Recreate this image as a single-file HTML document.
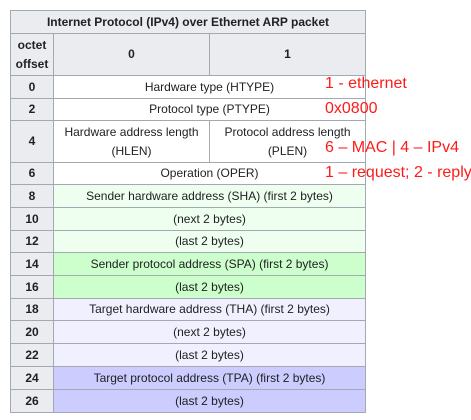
<!DOCTYPE html>
<html><head><style>
body{margin:0;background:#fff;width:471px;height:420px;position:relative;overflow:hidden;font-family:"Liberation Sans",Arial,sans-serif;}
.c{position:absolute;box-sizing:border-box;border:1px solid #a2a9b1;display:flex;align-items:center;justify-content:center;text-align:center;font-size:12px;color:#202122;line-height:19px;}
.h{background:#eaecf0;font-weight:bold;}
.r{position:absolute;color:#ff1a1a;font-size:16px;white-space:nowrap;line-height:18px;}
</style></head><body>
<div class="c h" style="left:10px;top:10px;width:356px;height:24px;">Internet Protocol (IPv4) over Ethernet ARP packet</div>
<div class="c h" style="left:10px;top:33px;width:44px;height:43px;">octet<br>offset</div>
<div class="c h" style="left:53px;top:33px;width:157px;height:43px;">0</div>
<div class="c h" style="left:209px;top:33px;width:157px;height:43px;">1</div>

<div class="c h" style="left:10px;top:75px;width:44px;height:24px;">0</div>
<div class="c" style="left:53px;top:75px;width:313px;height:24px;">Hardware type (HTYPE)</div>
<div class="c h" style="left:10px;top:98px;width:44px;height:23px;">2</div>
<div class="c" style="left:53px;top:98px;width:313px;height:23px;">Protocol type (PTYPE)</div>
<div class="c h" style="left:10px;top:120px;width:44px;height:43px;">4</div>
<div class="c" style="left:53px;top:120px;width:157px;height:43px;">Hardware address length<br>(HLEN)</div>
<div class="c" style="left:209px;top:120px;width:157px;height:43px;">Protocol address length<br>(PLEN)</div>
<div class="c h" style="left:10px;top:162px;width:44px;height:23px;">6</div>
<div class="c" style="left:53px;top:162px;width:313px;height:23px;">Operation (OPER)</div>

<div class="c h" style="left:10px;top:184px;width:44px;height:24px;">8</div>
<div class="c" style="left:53px;top:184px;width:313px;height:24px;background:#efffef;">Sender hardware address (SHA) (first 2 bytes)</div>
<div class="c h" style="left:10px;top:207px;width:44px;height:24px;">10</div>
<div class="c" style="left:53px;top:207px;width:313px;height:24px;background:#efffef;">(next 2 bytes)</div>
<div class="c h" style="left:10px;top:230px;width:44px;height:23px;">12</div>
<div class="c" style="left:53px;top:230px;width:313px;height:23px;background:#efffef;">(last 2 bytes)</div>
<div class="c h" style="left:10px;top:252px;width:44px;height:24px;">14</div>
<div class="c" style="left:53px;top:252px;width:313px;height:24px;background:#ccffcc;">Sender protocol address (SPA) (first 2 bytes)</div>
<div class="c h" style="left:10px;top:275px;width:44px;height:24px;">16</div>
<div class="c" style="left:53px;top:275px;width:313px;height:24px;background:#ccffcc;">(last 2 bytes)</div>
<div class="c h" style="left:10px;top:298px;width:44px;height:23px;">18</div>
<div class="c" style="left:53px;top:298px;width:313px;height:23px;background:#f0f0ff;">Target hardware address (THA) (first 2 bytes)</div>
<div class="c h" style="left:10px;top:320px;width:44px;height:24px;">20</div>
<div class="c" style="left:53px;top:320px;width:313px;height:24px;background:#f0f0ff;">(next 2 bytes)</div>
<div class="c h" style="left:10px;top:343px;width:44px;height:24px;">22</div>
<div class="c" style="left:53px;top:343px;width:313px;height:24px;background:#f0f0ff;">(last 2 bytes)</div>
<div class="c h" style="left:10px;top:366px;width:44px;height:24px;">24</div>
<div class="c" style="left:53px;top:366px;width:313px;height:24px;background:#ccccff;">Target protocol address (TPA) (first 2 bytes)</div>
<div class="c h" style="left:10px;top:389px;width:44px;height:24px;">26</div>
<div class="c" style="left:53px;top:389px;width:313px;height:24px;background:#ccccff;">(last 2 bytes)</div>

<div class="r" style="left:325px;top:75px;">1 - ethernet</div>
<div class="r" style="left:325px;top:100px;">0x0800</div>
<div class="r" style="left:325px;top:139px;">6 – MAC | 4 – IPv4</div>
<div class="r" style="left:325px;top:164px;">1 – request; 2 - reply</div>
</body></html>
